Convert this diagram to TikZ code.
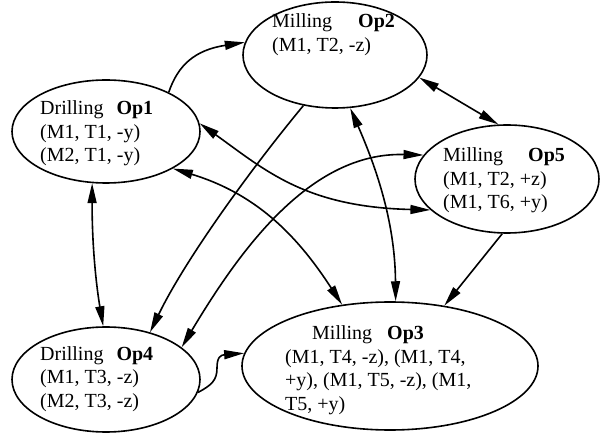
\documentclass[tikz,border=0pt]{standalone}
\usepackage{fontspec}
\setmainfont{Liberation Serif}
\usepackage{tikz}
\usetikzlibrary{arrows.meta,shapes}

\begin{document}
\begin{tikzpicture}[x=1pt,y=-1pt,
    op/.style={draw,ellipse,line width=1.6pt,inner sep=0pt},
    lbl/.style={anchor=base west,align=left,inner sep=0pt,
        font=\fontsize{20pt}{23.5pt}\selectfont},
    arr/.style={line width=1.6pt,-{Triangle[length=20pt,width=9pt]}},
    dbl/.style={line width=1.6pt,{Triangle[length=20pt,width=9pt]}-{Triangle[length=20pt,width=9pt]}}]
    \useasboundingbox (0,0) rectangle (602,435);

    \node[op,minimum width=188pt,minimum height=103pt] (op1) at (106,131.5) {};
    \node[op,minimum width=184pt,minimum height=106pt] (op2) at (335,55) {};
    \node[op,minimum width=296pt,minimum height=128pt] (op3) at (390,366) {};
    \node[op,minimum width=188pt,minimum height=105pt] (op4) at (106,379.5) {};
    \node[op,minimum width=184pt,minimum height=108pt] (op5) at (507,179) {};

    \node[lbl] (t1) at (40,162) {Drilling\hspace{13pt}\textbf{Op1}\\(M1, T1, -y)\\(M2, T1, -y)};
    \node[lbl] (t2) at (272,51.5) {Milling\hspace{26pt}\textbf{Op2}\\(M1, T2, -z)};
    \node[lbl] (t3) at (285,410) {\hspace*{27pt}Milling\hspace{15pt}\textbf{Op3}\\(M1, T4, -z), (M1, T4,\\+y), (M1, T5, -z), (M1,\\T5, +y)};
    \node[lbl] (t4) at (40,407) {Drilling\hspace{13pt}\textbf{Op4}\\(M1, T3, -z)\\(M2, T3, -z)};
    \node[lbl] (t5) at (443,209) {Milling\hspace{25pt}\textbf{Op5}\\(M1, T2, +z)\\(M1, T6, +y)};

    \draw[arr] (op1.32.5) .. controls (178,65) and (195,50) .. (op2.172.6);
    \draw[dbl] (op2.-15.9) -- (op5.99.5);
    \draw[dbl] (op1.5.2) .. controls (265,170) and (305,207) .. (op5.202);
    \draw[dbl] (op4.23.9) .. controls (240,250) and (310,152) .. (op5.164.7);
    \draw[arr] (op2.238.1) .. controls (250,170) and (185,260) .. (op4.47.1);
    \draw[dbl] (op2.-74.2) .. controls (375,165) and (395,220) .. (op3.85.7);
    \draw[dbl] (op1.-29.6) .. controls (260,195) and (300,240) .. (op3.128);
    \draw[dbl] (op1.255.8) .. controls (92,250) and (97,290) .. (op4.93.3);
    \draw[arr] (op5.265.8) -- (op3.48.2);
    \draw[arr] (op4.-8.3) .. controls (212,385) and (217,380) .. (217,368)
        .. controls (217,358) and (220,355) .. (op3.175);
\end{tikzpicture}
\end{document}
